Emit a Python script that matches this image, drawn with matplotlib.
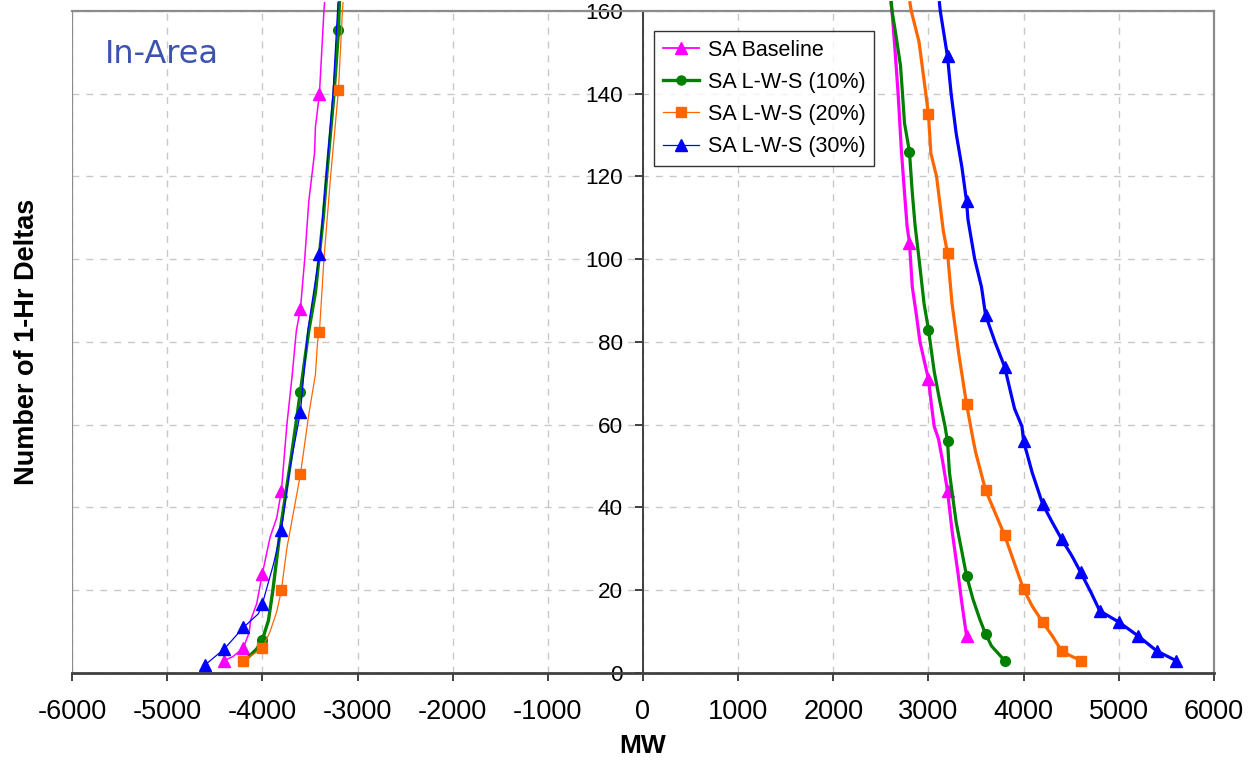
import matplotlib
matplotlib.use("Agg")
import matplotlib.pyplot as plt
from matplotlib.lines import Line2D

plt.rcParams['font.family'] = ['Liberation Sans', 'DejaVu Sans']

# ---- axis setup values ----
x_ticks = [-6000, -5000, -4000, -3000, -2000, -1000, 0, 1000, 2000, 3000, 4000, 5000, 6000]
y_ticks = [0, 20, 40, 60, 80, 100, 120, 140, 160]
series_names = ["SA Baseline", "SA L-W-S (10%)", "SA L-W-S (20%)", "SA L-W-S (30%)"]

# ---- SA Baseline ----
base_neg_x = [-4400, -4307, -4200, -4138, -4124, -4060, -4000, -3919, -3848, -3800,
              -3742, -3689, -3643, -3600, -3555, -3512, -3452, -3442, -3400, -3353, -3346]
base_neg_y = [3, 4, 6, 9.8, 12.7, 16.7, 24, 32.8, 37.6, 44,
              60.1, 71.4, 82.7, 88, 100, 114, 125.6, 132, 140, 160, 162]
base_neg_mx = [-4400, -4200, -4000, -3800, -3600, -3400]
base_neg_my = [3, 6, 24, 44, 88, 140]

base_pos_x = [3400, 3350, 3309, 3250, 3200, 3150, 3106, 3060, 3030, 3000, 2960, 2911,
              2870, 2830, 2800, 2775, 2745, 2716, 2681, 2650, 2617, 2605]
base_pos_y = [9, 17, 24.3, 34, 44, 51, 56.5, 59.6, 65, 71, 75, 80,
              87, 93.3, 104, 108, 117, 126, 140, 150, 160, 162]
base_pos_mx = [3400, 3200, 3000, 2800]
base_pos_my = [9, 44, 71, 104]

# ---- SA L-W-S (10%) ----
lws10_neg_x = [-4200, -4148, -4060, -4000, -3936, -3890, -3813, -3707, -3600, -3530,
               -3512, -3442, -3406, -3360, -3325, -3247, -3200, -3194, -3190]
lws10_neg_y = [3, 3.8, 5.8, 8, 12.7, 19.9, 34.4, 50.5, 68, 79.8,
               82.7, 92, 100, 110, 120, 140, 155.3, 160, 162]
lws10_neg_mx = [-4200, -4000, -3600, -3200]
lws10_neg_my = [3, 8, 68, 155.3]

lws10_pos_x = [3800, 3663, 3600, 3539, 3468, 3400, 3291, 3220, 3200, 3174, 3113, 3060,
               3000, 2954, 2901, 2860, 2830, 2800, 2748, 2727, 2706, 2653, 2617, 2610]
lws10_pos_y = [3, 6.5, 9.4, 13, 17.8, 23.5, 36.4, 48.5, 56, 59.6, 66.4, 72.9,
               83, 89.2, 100, 108, 116, 126, 132.9, 140, 146.8, 154.9, 160, 162]
lws10_pos_mx = [3800, 3600, 3400, 3200, 3000, 2800]
lws10_pos_my = [3, 9.4, 23.5, 56, 83, 126]

# ---- SA L-W-S (20%) ----
lws20_neg_x = [-4200, -4095, -4000, -3919, -3848, -3800, -3742, -3600, -3512, -3442,
               -3420, -3400, -3353, -3283, -3200, -3159, -3152]
lws20_neg_y = [3, 4.5, 6, 10, 14.9, 20, 30.2, 48, 62.5, 72.2,
               80, 82.5, 100, 120, 141, 160, 162]
lws20_neg_mx = [-4200, -4000, -3800, -3600, -3400, -3200]
lws20_neg_my = [3, 6, 20, 48, 82.5, 141]

lws20_pos_x = [4600, 4480, 4400, 4300, 4200, 4089, 4000, 3900, 3800, 3699, 3600, 3496,
               3468, 3400, 3319, 3248, 3200, 3156, 3085, 3025, 3000, 2972, 2901, 2819, 2805]
lws20_pos_y = [3, 4.3, 5.3, 9, 12.3, 16.2, 20.2, 26.7, 33.3, 38.8, 44.2, 53.3,
               56.5, 65, 77, 89.2, 101.5, 106.8, 120, 125.6, 135, 140, 152.5, 160, 162]
lws20_pos_mx = [4600, 4400, 4200, 4000, 3800, 3600, 3400, 3200, 3000]
lws20_pos_my = [3, 5.3, 12.3, 20.2, 33.3, 44.2, 65, 101.5, 135]

# ---- SA L-W-S (30%) ----
lws30_neg_x = [-4600, -4400, -4200, -4042, -4000, -3883, -3800, -3707, -3600, -3523,
               -3400, -3330, -3258, -3210, -3205]
lws30_neg_y = [2, 5.8, 11, 14.3, 16.7, 26.3, 34.6, 50, 63, 82.7,
               101.3, 120, 140, 160, 162]
lws30_neg_mx = [-4600, -4400, -4200, -4000, -3800, -3600, -3400]
lws30_neg_my = [2, 5.8, 11, 16.7, 34.6, 63, 101.3]

lws30_pos_x = [5600, 5400, 5200, 5000, 4890, 4800, 4709, 4600, 4507, 4400, 4301, 4200,
               4089, 4000, 3982, 3904, 3800, 3699, 3600, 3557, 3486, 3415, 3400, 3351,
               3291, 3238, 3200, 3124, 3115]
lws30_pos_y = [3, 5.3, 9, 12.3, 13.8, 15, 19.4, 24.3, 28.3, 32.3, 36.4, 40.8,
               48.5, 56, 59.6, 63.9, 74, 80, 86.5, 93.3, 100, 109.6, 114, 122.3,
               130.4, 140, 149, 160, 162]
lws30_pos_mx = [5600, 5400, 5200, 5000, 4800, 4600, 4400, 4200, 4000, 3800, 3600, 3400, 3200]
lws30_pos_my = [3, 5.3, 9, 12.3, 15, 24.3, 32.3, 40.8, 56, 74, 86.5, 114, 149]

# ---- styles ----
colors = ["#FF00FF", "#008000", "#FF6600", "#0000FF"]
markers = ["^", "o", "s", "^"]
msizes = [8.5, 7, 7.8, 8.5]
neg_lw = [1.1, 2.4, 0.9, 0.9]
pos_lw = 2.3

neg_data = [(base_neg_x, base_neg_y, base_neg_mx, base_neg_my),
            (lws10_neg_x, lws10_neg_y, lws10_neg_mx, lws10_neg_my),
            (lws20_neg_x, lws20_neg_y, lws20_neg_mx, lws20_neg_my),
            (lws30_neg_x, lws30_neg_y, lws30_neg_mx, lws30_neg_my)]
pos_data = [(base_pos_x, base_pos_y, base_pos_mx, base_pos_my),
            (lws10_pos_x, lws10_pos_y, lws10_pos_mx, lws10_pos_my),
            (lws20_pos_x, lws20_pos_y, lws20_pos_mx, lws20_pos_my),
            (lws30_pos_x, lws30_pos_y, lws30_pos_mx, lws30_pos_my)]

fig = plt.figure(figsize=(12.55, 7.63), dpi=100)
ax = fig.add_axes([0.0574, 0.118, 0.9099, 0.8676])
ax.set_xlim(-6000, 6000)
ax.set_ylim(0, 160)

# gridlines
ax.set_axisbelow(True)
ax.grid(True, color="#C8C8C8", linestyle=(0, (5, 5)), linewidth=1.0)

for i in range(4):
    c = colors[i]
    for (lx, ly, mx, my), lw in ((neg_data[i], neg_lw[i]), (pos_data[i], pos_lw)):
        ax.plot(lx, ly, color=c, lw=lw, clip_on=False, solid_joinstyle="round", zorder=3 + i)
        ax.plot(mx, my, linestyle="none", marker=markers[i], ms=msizes[i],
                color=c, markeredgecolor=c, clip_on=False, zorder=3 + i)

# frame: y spine sits at x = 0, outer border drawn in grey
for side in ("top", "right"):
    ax.spines[side].set_color("#8C8C8C")
    ax.spines[side].set_linewidth(1.6)
ax.spines["left"].set_position(("data", 0))
ax.spines["left"].set_color("#404040")
ax.spines["left"].set_linewidth(1.4)
ax.spines["bottom"].set_color("#404040")
ax.spines["bottom"].set_linewidth(2.0)
ax.axvline(ax.get_xlim()[0], color="#8C8C8C", lw=1.6, zorder=1)

ax.set_xticks(x_ticks)
ax.set_yticks(y_ticks)
ax.set_xticklabels([str(t) for t in x_ticks])
ax.set_yticklabels([str(t) for t in y_ticks])
ax.tick_params(axis="x", direction="out", length=5.5, width=1.2, color="#202020",
               labelsize=19.5, pad=13.5)
ax.tick_params(axis="y", direction="out", length=6, width=1.2, color="#202020",
               labelsize=16.2, pad=8.5)

ax.set_xlabel("MW", fontsize=19, fontweight="bold", labelpad=6)
fig.text(0.0215, 0.552, "Number of 1-Hr Deltas", rotation=90, fontsize=19.5,
         fontweight="bold", ha="center", va="center")

ax.text(-5660, 149.6, "In-Area", fontsize=23, color="#3C52AE",
        family="DejaVu Sans", ha="left", va="center")

handles = [Line2D([], [], color=colors[i], lw=neg_lw[i] if i != 0 else 1.3,
                  marker=markers[i], ms=msizes[i] - 0.5, markeredgecolor=colors[i])
           for i in range(4)]
leg = ax.legend(handles, series_names, loc="upper left",
                bbox_to_anchor=(0.5096, 0.9698), borderaxespad=0,
                fontsize=15.5, frameon=True, fancybox=False, edgecolor="#000000",
                handlelength=1.7, handletextpad=0.4, labelspacing=0.52,
                borderpad=0.4)
leg.get_frame().set_linewidth(1.0)
leg.set_zorder(10)

fig.savefig("out.png", dpi=100)
